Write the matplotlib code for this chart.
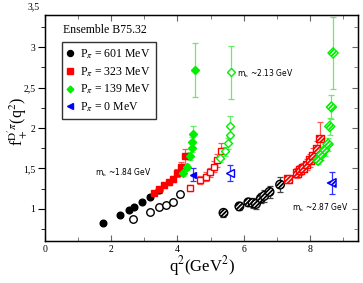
import matplotlib
matplotlib.use('Agg')
import matplotlib.pyplot as plt
from matplotlib.lines import Line2D
from matplotlib.ticker import MultipleLocator, FuncFormatter

plt.rcParams['font.family'] = 'Liberation Serif'
plt.rcParams['mathtext.fontset'] = 'stix'
plt.rcParams['hatch.linewidth'] = 1.3

# ---- data: f_+(q^2) for each heavy mass, per pion momentum ----
# m_h ~ 1.84 GeV (filled markers)
g1_601_q2 = [1.76, 2.25, 2.55, 2.70, 2.93, 3.17, 3.45]
g1_601_f = [0.82, 0.92, 0.98, 1.02, 1.09, 1.15, 1.23]
g1_601_err = [0.01, 0.01, 0.01, 0.01, 0.015, 0.02, 0.04]
g1_323_q2 = [3.30, 3.45, 3.60, 3.75, 3.88, 4.00, 4.10, 4.23]
g1_323_f = [1.19, 1.24, 1.29, 1.33, 1.37, 1.44, 1.52, 1.65]
g1_323_err = [0.02, 0.02, 0.03, 0.03, 0.04, 0.05, 0.06, 0.09]
g1_139_q2 = [4.16, 4.28, 4.38, 4.43, 4.45, 4.48, 4.53]
g1_139_f = [1.44, 1.52, 1.65, 1.75, 1.83, 1.93, 2.72]
g1_139_err = [0.03, 0.04, 0.05, 0.05, 0.06, 0.09, 0.33]
g1_0_q2 = [4.48]
g1_0_f = [1.42]
g1_0_err = [0.08]

# m_h ~ 2.13 GeV (open markers)
g2_601_q2 = [2.67, 3.17, 3.45, 3.66, 3.88, 4.08]
g2_601_f = [0.87, 0.96, 1.02, 1.05, 1.09, 1.18]
g2_601_err = [0.01, 0.01, 0.015, 0.015, 0.02, 0.03]
g2_323_q2 = [4.38, 4.68, 4.85, 4.98, 5.10, 5.20, 5.30]
g2_323_f = [1.26, 1.36, 1.40, 1.45, 1.52, 1.60, 1.72]
g2_323_err = [0.04, 0.05, 0.05, 0.06, 0.07, 0.08, 0.10]
g2_139_q2 = [5.29, 5.44, 5.54, 5.59, 5.60, 5.61]
g2_139_f = [1.63, 1.71, 1.81, 1.91, 2.02, 2.69]
g2_139_err = [0.05, 0.06, 0.07, 0.09, 0.13, 0.33]
g2_0_q2 = [5.59]
g2_0_f = [1.44]
g2_0_err = [0.10]

# m_h ~ 2.87 GeV (hatched markers)
g3_601_q2 = [5.39, 5.87, 6.14, 6.27, 6.37, 6.52, 6.62, 6.78, 7.10]
g3_601_f = [0.95, 1.03, 1.08, 1.07, 1.06, 1.13, 1.16, 1.21, 1.30]
g3_601_err = [0.05, 0.05, 0.05, 0.06, 0.06, 0.06, 0.07, 0.07, 0.09]
g3_323_q2 = [7.35, 7.60, 7.70, 7.80, 7.90, 8.00, 8.10, 8.20, 8.30]
g3_323_f = [1.37, 1.44, 1.48, 1.51, 1.55, 1.60, 1.66, 1.74, 1.87]
g3_323_err = [0.05, 0.06, 0.06, 0.06, 0.07, 0.08, 0.09, 0.10, 0.20]
g3_139_q2 = [8.25, 8.35, 8.45, 8.55, 8.60, 8.65, 8.70]
g3_139_f = [1.60, 1.67, 1.73, 1.80, 2.02, 2.26, 2.93]
g3_139_err = [0.05, 0.06, 0.07, 0.08, 0.10, 0.15, 0.45]
g3_0_q2 = [8.66]
g3_0_f = [1.32]
g3_0_err = [0.14]

legend_labels = ['P$_\\pi$ = 601 MeV', 'P$_\\pi$ = 323 MeV',
                 'P$_\\pi$ = 139 MeV', 'P$_\\pi$ = 0 MeV']
mass_labels = ['m$_\\mathrm{h}$ ~1.84 GeV', 'm$_\\mathrm{h}$ ~2.13 GeV',
               'm$_\\mathrm{h}$ ~2.87 GeV']

# styles per momentum: marker, marker colour, error-bar colour, size
styles = [('o', 'black', '#444444', 4.8),
          ('s', 'red', '#ff5555', 4.2),
          ('D', '#00ee00', '#66ee66', 3.8),
          ('<', 'blue', '#3333ff', 4.8)]

groups = [
    [(g1_601_q2, g1_601_f, g1_601_err), (g1_323_q2, g1_323_f, g1_323_err),
     (g1_139_q2, g1_139_f, g1_139_err), (g1_0_q2, g1_0_f, g1_0_err)],
    [(g2_601_q2, g2_601_f, g2_601_err), (g2_323_q2, g2_323_f, g2_323_err),
     (g2_139_q2, g2_139_f, g2_139_err), (g2_0_q2, g2_0_f, g2_0_err)],
    [(g3_601_q2, g3_601_f, g3_601_err), (g3_323_q2, g3_323_f, g3_323_err),
     (g3_139_q2, g3_139_f, g3_139_err), (g3_0_q2, g3_0_f, g3_0_err)],
]

fig = plt.figure(figsize=(3.63, 2.83), dpi=100)
ax = fig.add_axes([0.124, 0.148, 0.862, 0.799])

for gi, group in enumerate(groups):
    for (q2, f, err), (mk, col, ecol, ms) in zip(group, styles):
        ax.errorbar(q2, f, yerr=err, fmt='none', ecolor=ecol,
                    elinewidth=0.9, capsize=2.5, capthick=0.9, zorder=2)
        if gi == 0:
            ax.plot(q2, f, mk, color=col, markersize=ms, zorder=3)
        elif gi == 1:
            ax.plot(q2, f, mk, markerfacecolor='white', markeredgecolor=col,
                    markeredgewidth=1.0, markersize=ms + 0.6, zorder=3)
        else:
            ax.scatter(q2, f, marker=mk, s=(ms + 1.4) ** 2, facecolor='white',
                       edgecolor=col, hatch='////////', linewidths=1.0,
                       zorder=3)

ax.set_xlim(0, 9.45)
ax.set_ylim(0.6, 3.4)
ax.xaxis.set_major_locator(MultipleLocator(2))
ax.xaxis.set_minor_locator(MultipleLocator(1))
ax.yaxis.set_major_locator(MultipleLocator(0.5))
ax.yaxis.set_minor_locator(MultipleLocator(0.25))
comma = FuncFormatter(lambda v, p: ('%g' % v).replace('.', ','))
ax.xaxis.set_major_formatter(comma)
ax.yaxis.set_major_formatter(comma)
ax.tick_params(axis='x', which='both', direction='in', top=True,
               labelsize=7, pad=3, color='#666666')
ax.tick_params(axis='y', which='both', direction='out', labelsize=7, pad=2)
ax.tick_params(axis='x', which='major', length=4)
ax.tick_params(axis='x', which='minor', length=3)
ax.tick_params(axis='y', which='major', length=5)
ax.tick_params(axis='y', which='minor', length=3)
for s in ax.spines.values():
    s.set_linewidth(1.0)

# right-side inward ticks (separate axis so left ticks stay outward)
ax_r = ax.twinx()
ax_r.set_ylim(ax.get_ylim())
ax_r.yaxis.set_major_locator(MultipleLocator(0.5))
ax_r.yaxis.set_minor_locator(MultipleLocator(0.25))
ax_r.tick_params(axis='y', which='both', direction='in', labelright=False,
                 color='#666666')
ax_r.tick_params(axis='y', which='major', length=4)
ax_r.tick_params(axis='y', which='minor', length=3)

# 3,5 label sits just above the frame
ax.text(-0.15, 3.5, '3,5', fontsize=7, ha='right', va='center',
        clip_on=False)

ax.set_xlabel('q$^2$(GeV$^2$)', fontsize=12, labelpad=0)
ax.set_ylabel("f$_+^{\\mathrm{D'}\\pi}$(q$^2$)", fontsize=11.5)
ax.yaxis.set_label_coords(-0.045, 0.53)

# legend
handles = [Line2D([], [], linestyle='none', marker=mk, color=col,
                  markersize=ms * 0.9)
           for mk, col, ecol, ms in styles]
leg = ax.legend(handles, legend_labels, loc='upper left',
                bbox_to_anchor=(0.053, 0.88), fontsize=8.5, frameon=True,
                fancybox=False, edgecolor='black', handlelength=0.6,
                handletextpad=0.5, borderpad=0.45, labelspacing=0.35,
                borderaxespad=0)
leg.get_frame().set_linewidth(1.0)
ax.text(0.058, 0.905, 'Ensemble B75.32', transform=ax.transAxes,
        fontsize=8.5, ha='left', va='bottom')

# heavy-mass annotations
ax.text(1.5, 1.41, mass_labels[0], fontsize=5.5, family='DejaVu Sans')
ax.text(5.8, 2.63, mass_labels[1], fontsize=5.5, family='DejaVu Sans')
ax.text(7.45, 0.97, mass_labels[2], fontsize=5.5, family='DejaVu Sans')

fig.savefig('out.png', dpi=100)
